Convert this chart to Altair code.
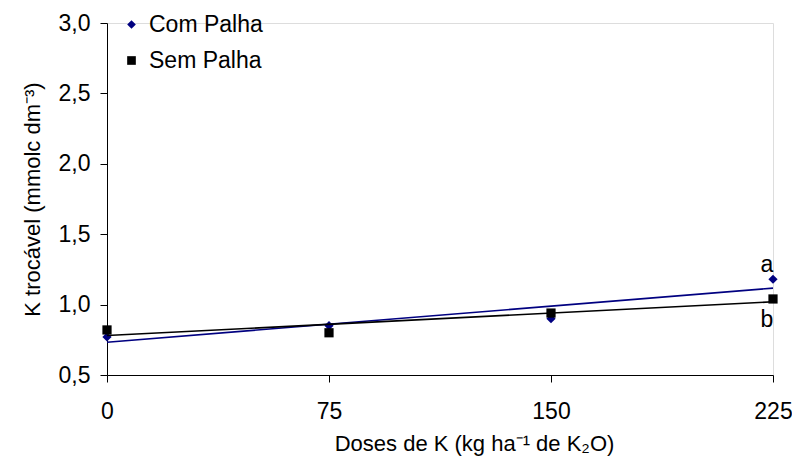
import altair as alt
import pandas as pd

doses = [0, 75, 150, 225]
com_palha = [0.77, 0.85, 0.90, 1.18]
sem_palha = [0.82, 0.80, 0.94, 1.04]
series = ["Com Palha", "Sem Palha"]
letters = ["a", "b"]
letter_y = [1.28, 0.89]

rows = []
for d, c, s in zip(doses, com_palha, sem_palha):
    rows.append({"dose": d, "k": c, "trat": series[0]})
    rows.append({"dose": d, "k": s, "trat": series[1]})
df = pd.DataFrame(rows)
lab = pd.DataFrame({"dose": [225, 225], "k": letter_y, "txt": letters})

FONT = "Liberation Sans"
colors = ["#000080", "#000000"]

x = alt.X("dose:Q", scale=alt.Scale(domain=[0, 225], nice=False, zero=False),
          axis=alt.Axis(values=doses, title="Doses de K (kg ha⁻¹ de K₂O)",
                        grid=False, tickSize=7, labelPadding=18, titlePadding=10,
                        titleX=367, titleAlign="center", labelFlush=False,
                        labelOverlap=False,
                        labelFontSize=23, titleFontSize=22, labelFont=FONT, titleFont=FONT,
                        titleFontWeight="normal", domainColor="black", tickColor="black",
                        labelColor="black", titleColor="black"))
y = alt.Y("k:Q", scale=alt.Scale(domain=[0.5, 3.0], nice=False, zero=False),
          axis=alt.Axis(values=[0.5, 1.0, 1.5, 2.0, 2.5, 3.0],
                        labelExpr="replace(format(datum.value, '.1f'), '.', ',')",
                        title="K trocável (mmolc dm⁻³)", grid=False, tickSize=7,
                        labelPadding=10, titlePadding=14, labelFlush=False,
                        labelFontSize=23, titleFontSize=22, labelFont=FONT, titleFont=FONT,
                        titleFontWeight="normal", domainColor="black", tickColor="black",
                        labelColor="black", titleColor="black"))

legend = alt.Legend(orient="none", legendX=13, legendY=-10, title=None,
                    labelFontSize=23, labelFont=FONT, labelColor="black",
                    rowPadding=12, symbolSize=75, symbolOffset=0,
                    labelOffset=6, symbolStrokeWidth=0)
color = alt.Color("trat:N", scale=alt.Scale(domain=series, range=colors), legend=legend)
shape = alt.Shape("trat:N", scale=alt.Scale(domain=series, range=["diamond", "square"]),
                  legend=legend)

base = alt.Chart(df)
pts = base.mark_point(filled=True, size=85, opacity=1).encode(x=x, y=y, color=color, shape=shape)
lines = base.transform_regression("dose", "k", groupby=["trat"], extent=[0, 225]).mark_line(
    strokeWidth=1.6).encode(x=x, y=y, color=color)
txt = alt.Chart(lab).mark_text(fontSize=23, font=FONT, color="black", dx=-6).encode(
    x=alt.X("dose:Q"), y=alt.Y("k:Q"), text="txt:N")

chart = alt.layer(pts, lines, txt).properties(
    width=666, height=352,
    autosize=alt.AutoSizeParams(type="none"),
    padding={"left": 99, "top": 15, "right": 19, "bottom": 82},
).configure_view(stroke=None).configure(background="white")

chart.save("out.html", embed_options={"renderer": "svg", "actions": False})
